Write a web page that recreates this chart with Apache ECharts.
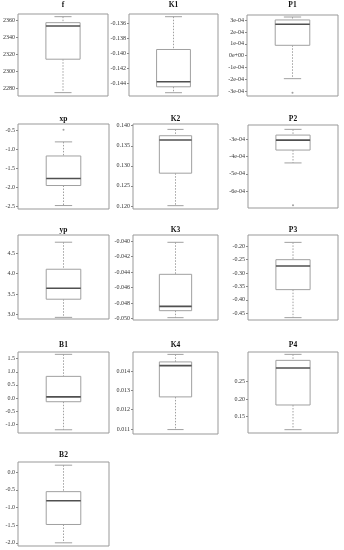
<!DOCTYPE html>
<html><head><meta charset="utf-8">
<script src="https://cdn.jsdelivr.net/npm/echarts@6/dist/echarts.min.js"></script>
<style>html,body{margin:0;padding:0;background:#fff}#c{width:344px;height:550px}</style>
</head><body><div id="c"></div>
<script>
// ---- data (whisker low, Q1, median, Q3, whisker high) ----
const titles = ['f','K1','P1','xp','K2','P2','yp','K3','P3','B1','K4','P4','B2'];
const fStats  = [2275.3, 2314.3, 2353, 2356.9, 2363.9];
const k1Stats = [-0.14521, -0.14442, -0.14375, -0.13944, -0.13506];
const p1Stats = [-1.95e-4, 0.88e-4, 2.66e-4, 3.03e-4, 3.28e-4];
const xpStats = [-2.47, -1.947, -1.763, -1.175, -0.807];
const k2Stats = [0.12008, 0.12817, 0.13642, 0.1375, 0.13908];
const p2Stats = [-4.37e-4, -3.63e-4, -3.06e-4, -2.77e-4, -2.44e-4];
const ypStats = [2.935, 3.378, 3.646, 4.11, 4.77];
const k3Stats = [-0.04987, -0.04897, -0.04841, -0.04429, -0.04017];
const p3Stats = [-0.466, -0.362, -0.2743, -0.2507, -0.1864];
const b1Stats = [-1.217, -0.145, 0.04, 0.824, 1.666];
const k4Stats = [0.01097, 0.01266, 0.01428, 0.01447, 0.01486];
const p4Stats = [0.1115, 0.1827, 0.2894, 0.3115, 0.3288];
const b2Stats = [-2.0, -1.48, -0.81, -0.55, 0.2];
const statsList = [fStats,k1Stats,p1Stats,xpStats,k2Stats,p2Stats,ypStats,k3Stats,p3Stats,b1Stats,k4Stats,p4Stats,b2Stats];

const p1Outliers = [-3.14e-4];
const xpOutliers = [-0.49];
const p2Outliers = [-6.8e-4];
const outlierList = [[],[],p1Outliers,xpOutliers,[],p2Outliers,[],[],[],[],[],[],[]];

const fTicks  = [2280, 2300, 2320, 2340, 2360];
const k1Ticks = [-0.144, -0.142, -0.140, -0.138, -0.136];
const p1Ticks = [-3e-4, -2e-4, -1e-4, 0, 1e-4, 2e-4, 3e-4];
const xpTicks = [-2.5, -2.0, -1.5, -1.0, -0.5];
const k2Ticks = [0.120, 0.125, 0.130, 0.135, 0.140];
const p2Ticks = [-6e-4, -5e-4, -4e-4, -3e-4];
const ypTicks = [3.0, 3.5, 4.0, 4.5];
const k3Ticks = [-0.050, -0.048, -0.046, -0.044, -0.042, -0.040];
const p3Ticks = [-0.45, -0.40, -0.35, -0.30, -0.25, -0.20];
const b1Ticks = [-1.0, -0.5, 0.0, 0.5, 1.0, 1.5];
const k4Ticks = [0.011, 0.012, 0.013, 0.014];
const p4Ticks = [0.15, 0.20, 0.25];
const b2Ticks = [-2.0, -1.5, -1.0, -0.5, 0.0];
const tickList = [fTicks,k1Ticks,p1Ticks,xpTicks,k2Ticks,p2Ticks,ypTicks,k3Ticks,p3Ticks,b1Ticks,k4Ticks,p4Ticks,b2Ticks];

const fLabels  = ['2280','2300','2320','2340','2360'];
const k1Labels = ['-0.144','-0.142','-0.140','-0.138','-0.136'];
const p1Labels = ['-3e-04','-2e-04','-1e-04','0e+00','1e-04','2e-04','3e-04'];
const xpLabels = ['-2.5','-2.0','-1.5','-1.0','-0.5'];
const k2Labels = ['0.120','0.125','0.130','0.135','0.140'];
const p2Labels = ['-6e-04','-5e-04','-4e-04','-3e-04'];
const ypLabels = ['3.0','3.5','4.0','4.5'];
const k3Labels = ['-0.050','-0.048','-0.046','-0.044','-0.042','-0.040'];
const p3Labels = ['-0.45','-0.40','-0.35','-0.30','-0.25','-0.20'];
const b1Labels = ['-1.0','-0.5','0.0','0.5','1.0','1.5'];
const k4Labels = ['0.011','0.012','0.013','0.014'];
const p4Labels = ['0.15','0.20','0.25'];
const b2Labels = ['-2.0','-1.5','-1.0','-0.5','0.0'];
const labelList = [fLabels,k1Labels,p1Labels,xpLabels,k2Labels,p2Labels,ypLabels,k3Labels,p3Labels,b1Labels,k4Labels,p4Labels,b2Labels];

const axisMin = [2271.4, -0.14565, -3.42e-4, -2.56, 0.11925, -6.96e-4, 2.895, -0.05017, -0.4748, -1.34, 0.010741, 0.1019, -2.09];
const axisMax = [2367, -0.1347, 3.45e-4, -0.34, 0.14042, -2.19e-4, 4.946, -0.03923, -0.159, 1.755, 0.014983, 0.3356, 0.29];

// ---- layout ----
const layout = [
  [18,14,90,82],[129,14,89,82],[247,15,91,81],
  [18,124,91,85],[133,124,85,85],[248,125,90,83],
  [18,235,91,84],[133,235,85,85],[248,235,90,85],
  [18,352,91,81],[133,352,85,82],[248,352,90,81],
  [18,462,91,84]
];
const titleY = [5,5,5,119,119,119,230,230,230,345,345,345,455];

const FONT = 'Liberation Serif';
const GRAY = '#a0a0a0';

function renderBox(params, api) {
  const lo = api.coord([0, api.value(1)]);
  const q1 = api.coord([0, api.value(2)]);
  const md = api.coord([0, api.value(3)]);
  const q3 = api.coord([0, api.value(4)]);
  const hi = api.coord([0, api.value(5)]);
  const bw = api.size([1, 0])[0] * 0.38;
  const cx = lo[0], half = bw / 2, cap = bw / 4;
  const dash = {stroke: GRAY, lineWidth: 1, lineDash: [1.5, 1.5]};
  const solid = {stroke: GRAY, lineWidth: 1};
  return {type: 'group', children: [
    {type:'line', shape:{x1:cx,y1:hi[1],x2:cx,y2:q3[1]}, style:dash},
    {type:'line', shape:{x1:cx,y1:q1[1],x2:cx,y2:lo[1]}, style:dash},
    {type:'line', shape:{x1:cx-cap,y1:hi[1],x2:cx+cap,y2:hi[1]}, style:solid},
    {type:'line', shape:{x1:cx-cap,y1:lo[1],x2:cx+cap,y2:lo[1]}, style:solid},
    {type:'rect', shape:{x:cx-half,y:q3[1],width:bw,height:q1[1]-q3[1]}, style:{fill:'#fff',stroke:GRAY,lineWidth:1}},
    {type:'line', shape:{x1:cx-half,y1:md[1],x2:cx+half,y2:md[1]}, style:{stroke:'#505050',lineWidth:1.6}}
  ]};
}

const grids = [], xAxes = [], yAxes = [], series = [], graphics = [];
titles.forEach((t, i) => {
  const [l, tp, w, h] = layout[i];
  grids.push({left:l, top:tp, width:w, height:h, show:true, borderColor:'#999', borderWidth:1, backgroundColor:'transparent', containLabel:false});
  xAxes.push({type:'category', gridIndex:i, data:['1'], show:false});
  const ticks = tickList[i], labels = labelList[i];
  yAxes.push({
    type:'value', gridIndex:i, min:axisMin[i], max:axisMax[i],
    axisLine:{show:false}, splitLine:{show:false},
    axisTick:{show:true, length:2, customValues:ticks, lineStyle:{color:'#888', width:1}},
    axisLabel:{show:true, customValues:ticks, fontSize:6, fontFamily:FONT, color:'#333', margin:3,
      formatter: v => {
        let best = 0, bd = Infinity;
        ticks.forEach((tv, k) => { const d = Math.abs(tv - v); if (d < bd) { bd = d; best = k; } });
        return labels[best];
      }}
  });
  const s = statsList[i];
  series.push({type:'custom', xAxisIndex:i, yAxisIndex:i, renderItem:renderBox,
    data:[[0, s[0], s[1], s[2], s[3], s[4]]], silent:true, animation:false});
  if (outlierList[i].length) {
    series.push({type:'scatter', xAxisIndex:i, yAxisIndex:i, symbol:'circle', symbolSize:2,
      itemStyle:{color:'#888'}, data: outlierList[i].map(v => [0, v]), silent:true, animation:false});
  }
  graphics.push({type:'text', x:l + w/2, y:titleY[i],
    style:{text:t, font:'bold 7.5px "' + FONT + '"', fill:'#111', textAlign:'center', textVerticalAlign:'middle'}});
});

const chart = echarts.init(document.getElementById('c'), null, {renderer:'canvas'});
chart.setOption({animation:false, grid:grids, xAxis:xAxes, yAxis:yAxes, series:series, graphic:graphics});
</script>
</body></html>
